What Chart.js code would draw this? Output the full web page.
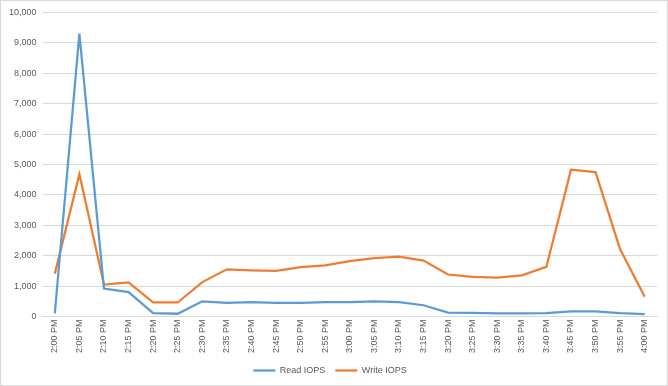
<!DOCTYPE html>
<html>
<head>
<meta charset="utf-8">
<script src="https://cdn.jsdelivr.net/npm/chart.js@4/dist/chart.umd.min.js"></script>
<style>
html,body{margin:0;padding:0;background:#fff;}
#wrap{position:absolute;left:0;top:0;width:668px;height:386px;box-sizing:border-box;border:1px solid #d9d9d9;}
#c{display:block;}
</style>
</head>
<body>
<div id="wrap"><canvas id="c" width="666" height="384"></canvas></div>
<script>
const categories = ["2:00 PM","2:05 PM","2:10 PM","2:15 PM","2:20 PM","2:25 PM","2:30 PM","2:35 PM","2:40 PM","2:45 PM","2:50 PM","2:55 PM","3:00 PM","3:05 PM","3:10 PM","3:15 PM","3:20 PM","3:25 PM","3:30 PM","3:35 PM","3:40 PM","3:45 PM","3:50 PM","3:55 PM","4:00 PM"];
const readIOPS = [100,9300,920,800,110,90,500,450,470,450,450,470,470,500,470,370,130,120,100,100,110,165,165,110,80];
const writeIOPS = [1410,4680,1050,1120,460,460,1130,1550,1520,1500,1620,1680,1820,1920,1970,1840,1380,1300,1280,1350,1630,4830,4750,2210,650];
const yTicks = {min:0, max:10000, step:1000};

const FONT = "'Liberation Sans', Arial, sans-serif";
new Chart(document.getElementById('c'), {
  type: 'line',
  data: {
    labels: categories,
    datasets: [
      {label:'Read IOPS', data: readIOPS, borderColor:'#5B9BD5', backgroundColor:'#5B9BD5', borderWidth:2.25, pointRadius:0, tension:0, fill:false},
      {label:'Write IOPS', data: writeIOPS, borderColor:'#ED7D31', backgroundColor:'#ED7D31', borderWidth:2.25, pointRadius:0, tension:0, fill:false}
    ]
  },
  options: {
    responsive:false,
    animation:false,
    layout:{padding:{left:2, right:10, top:6, bottom:0}},
    plugins:{
      legend:{
        position:'bottom',
        labels:{usePointStyle:true, pointStyle:'line', pointStyleWidth:22, color:'#595959', font:{family:FONT, size:9}, padding:10}
      },
      tooltip:{enabled:false}
    },
    scales:{
      x:{
        offset:true,
        grid:{display:false, drawTicks:false},
        border:{display:true, color:'#d9d9d9', width:1},
        ticks:{color:'#595959', font:{family:FONT, size:9}, minRotation:90, maxRotation:90, autoSkip:false, padding:3}
      },
      y:{
        min:yTicks.min, max:yTicks.max,
        grid:{color:'#d9d9d9', lineWidth:1, drawTicks:false},
        border:{display:false},
        ticks:{stepSize:yTicks.step, color:'#595959', font:{family:FONT, size:9}, padding:6,
          callback:(v)=>Number(v).toLocaleString('en-US')}
      }
    }
  }
});
</script>
</body>
</html>
